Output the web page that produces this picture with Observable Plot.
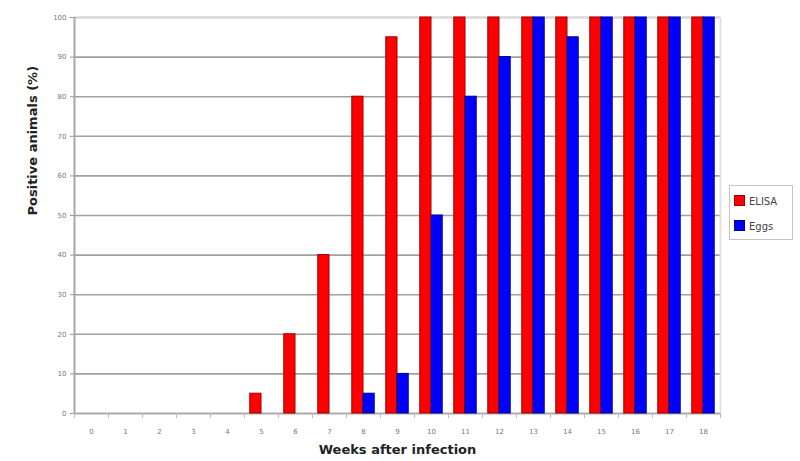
<!DOCTYPE html>
<html>
<head>
<meta charset="utf-8">
<script src="https://cdn.jsdelivr.net/npm/d3@7"></script>
<script src="https://cdn.jsdelivr.net/npm/@observablehq/plot@0.6"></script>
<style>
  html, body { margin: 0; padding: 0; background: #fff; }
  #chart { position: relative; width: 800px; height: 461px; font-family: "DejaVu Sans", sans-serif; }
  #legend {
    position: absolute; left: 729px; top: 185px; width: 58px; height: 48px;
    border: 1px solid #c4c4c4; background: #fff; padding: 3px 0 2px 4px;
    font-size: 10px; color: #444; line-height: 25px;
  }
  #legend .sw { display: inline-block; width: 9px; height: 9px; margin-right: 4px; vertical-align: -1px; }
</style>
</head>
<body>
<div id="chart"></div>
<script>
// Weeks after infection
const weeks = d3.range(0, 19);
// Percentage of positive animals per week
const elisa = [0, 0, 0, 0, 0, 5, 20, 40, 80, 95, 100, 100, 100, 100, 100, 100, 100, 100, 100];
const eggs  = [0, 0, 0, 0, 0, 0, 0, 0, 5, 10, 50, 80, 90, 100, 95, 100, 100, 100, 100];
const seriesNames = ["ELISA", "Eggs"];
const seriesColors = ["#ff0000", "#0000ff"];
const seriesStrokes = ["#a00000", "#000090"];
const yTicks = d3.range(0, 101, 10);

const barW = 0.33;
const rows = [];
weeks.forEach((w, i) => {
  rows.push({week: w, series: "ELISA", x1: w - barW, x2: w, value: elisa[i]});
  rows.push({week: w, series: "Eggs", x1: w, x2: w + barW, value: eggs[i]});
});

const chart = Plot.plot({
  width: 800,
  height: 461,
  marginLeft: 74,
  marginRight: 80,
  marginTop: 17,
  marginBottom: 48,
  style: {fontFamily: "DejaVu Sans, sans-serif", fontSize: "7px", color: "#666", background: "#fff"},
  x: {domain: [-0.5, 18.5], axis: null},
  y: {domain: [0, 100], axis: null},
  color: {domain: seriesNames, range: seriesColors},
  marks: [
    Plot.gridY(yTicks, {stroke: "#a0a0a0", strokeOpacity: 1, strokeWidth: 1.6}),
    Plot.ruleY([100], {stroke: "#dadada", strokeWidth: 2}),
    Plot.ruleX([18.5], {stroke: "#e2e2e2", strokeWidth: 2}),
    Plot.ruleX([-0.5], {stroke: "#a8a8a8", strokeWidth: 2}),
    Plot.ruleY([0], {stroke: "#a8a8a8", strokeWidth: 1.6}),
    Plot.rectY(rows, {
      x1: "x1", x2: "x2", y1: 0, y2: "value",
      fill: "series",
      stroke: d => seriesStrokes[seriesNames.indexOf(d.series)],
      strokeWidth: 1
    }),
    Plot.axisY(yTicks, {tickSize: 4, tickPadding: 4, stroke: "#999", fill: "#777", label: null}),
    Plot.axisX(d3.range(-0.5, 19, 1), {tickSize: 5, tickFormat: () => "", stroke: "#bbb", label: null}),
    Plot.axisX(weeks, {tickSize: 0, tickPadding: 16, fill: "#777", label: null}),
    Plot.text(["Positive animals (%)"], {
      frameAnchor: "left", rotate: -90, dx: -42,
      fontSize: 13, fontWeight: "bold", fill: "#222"
    }),
    Plot.text(["Weeks after infection"], {
      frameAnchor: "bottom", dy: 40,
      fontSize: 13, fontWeight: "bold", fill: "#222"
    })
  ]
});

const root = document.getElementById("chart");
root.appendChild(chart);

// Series legend to the right of the plot
const legend = document.createElement("div");
legend.id = "legend";
seriesNames.forEach((name, i) => {
  const row = document.createElement("div");
  const sw = document.createElement("span");
  sw.className = "sw";
  sw.style.background = seriesColors[i];
  sw.style.border = "1px solid " + seriesStrokes[i];
  row.appendChild(sw);
  row.appendChild(document.createTextNode(name));
  legend.appendChild(row);
});
root.appendChild(legend);
</script>
</body>
</html>
